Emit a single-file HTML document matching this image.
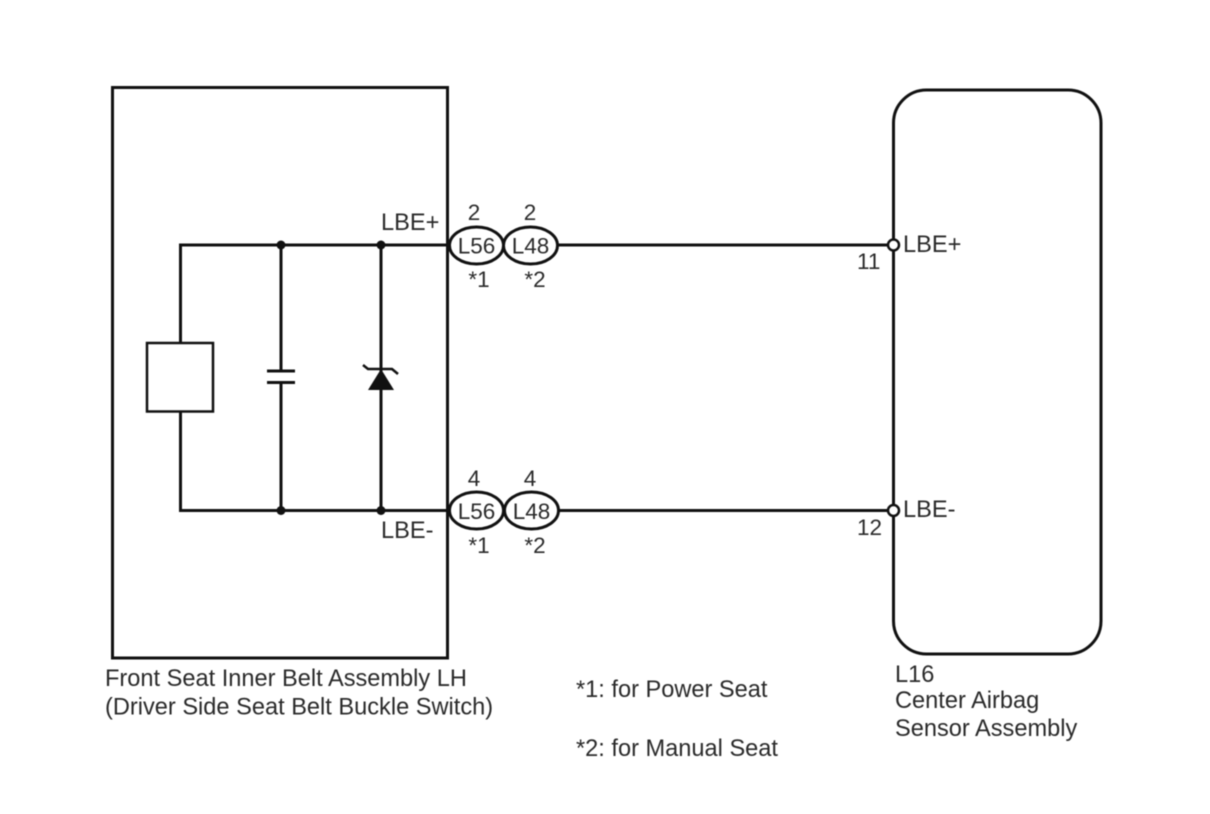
<!DOCTYPE html>
<html>
<head>
<meta charset="utf-8">
<style>
html,body{margin:0;padding:0;background:#fff;width:1210px;height:814px;overflow:hidden}
svg{display:block;filter:blur(0.4px)}
text{font-family:"Liberation Sans",Arial,sans-serif;font-size:23.6px;fill:#2a2a2a}
text.s{font-size:22.5px}
</style>
</head>
<body>
<svg width="1210" height="814" viewBox="0 0 1210 814" xmlns="http://www.w3.org/2000/svg">
<g fill="none" stroke="#111" stroke-width="3">
<rect x="112.500" y="87.500" width="335" height="570.500"/>
<rect x="893.500" y="90" width="207.500" height="564" rx="33" ry="33"/>
<rect x="147" y="343" width="66" height="68.500" stroke-width="2.500"/>
<path d="M448 245H180.500V343M180.500 411.500V510.500H448"/>
<path d="M281 245V371M281 382.500V510.500M267 371H295M267 382.500H295"/>
<path d="M381 245V510.500"/>
<path d="M363 365L368 369H392L398 374" stroke-width="2.500"/>
<path d="M558 245H888M558 510.500H888"/>
<ellipse cx="476.500" cy="245.500" rx="27" ry="18.500"/>
<ellipse cx="530.500" cy="245.500" rx="27" ry="18.500"/>
<ellipse cx="476.500" cy="510.500" rx="27" ry="18.500"/>
<ellipse cx="531.500" cy="510.500" rx="27" ry="18.500"/>
</g>
<path d="M381 369L394 390H368Z" fill="#111"/>
<g fill="#111">
<circle cx="281" cy="245" r="4.500"/>
<circle cx="381" cy="245" r="4.500"/>
<circle cx="281" cy="510.500" r="4.500"/>
<circle cx="381" cy="510.500" r="4.500"/>
</g>
<g fill="#fff" stroke="#111" stroke-width="2.500">
<circle cx="893.500" cy="245" r="5.500"/>
<circle cx="893.500" cy="510.500" r="5.500"/>
</g>
<text x="381" y="230">LBE+</text>
<text x="381" y="538">LBE-</text>
<text x="903" y="252">LBE+</text>
<text x="903" y="517">LBE-</text>
<text class="s" x="857" y="269">11</text>
<text class="s" x="857" y="535">12</text>
<g text-anchor="middle">
<text class="s" x="474" y="220">2</text>
<text class="s" x="530" y="220">2</text>
<text class="s" x="474" y="486">4</text>
<text class="s" x="530" y="486">4</text>
<text class="s" x="476.500" y="253.500">L56</text>
<text class="s" x="530.500" y="253.500">L48</text>
<text class="s" x="476.500" y="519">L56</text>
<text class="s" x="531.500" y="519">L48</text>
<text class="s" x="479" y="287">*1</text>
<text class="s" x="535" y="287">*2</text>
<text class="s" x="479" y="553">*1</text>
<text class="s" x="535" y="553">*2</text>
</g>
<text x="105" y="686">Front Seat Inner Belt Assembly LH</text>
<text x="105" y="714.500">(Driver Side Seat Belt Buckle Switch)</text>
<text x="576" y="697">*1: for Power Seat</text>
<text x="576" y="756">*2: for Manual Seat</text>
<text x="895" y="682">L16</text>
<text x="895" y="708">Center Airbag</text>
<text x="895" y="736">Sensor Assembly</text>
</svg>
</body>
</html>
